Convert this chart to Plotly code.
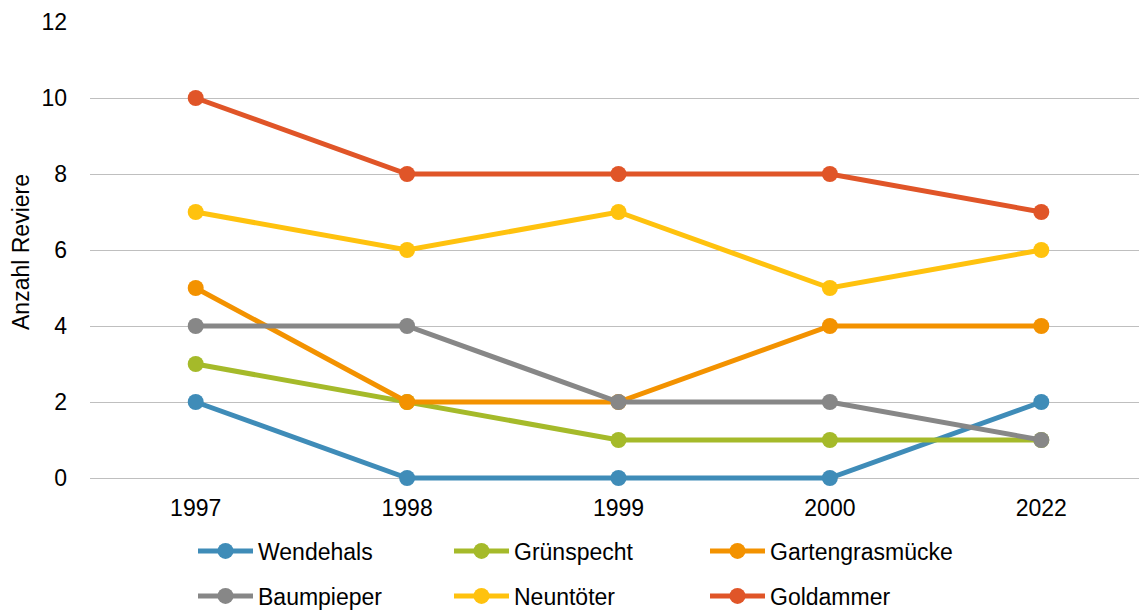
import plotly.graph_objects as go

# Kategorien und Werte (Anzahl Reviere)
jahre = ["1997", "1998", "1999", "2000", "2022"]
wendehals = [2, 0, 0, 0, 2]
gruenspecht = [3, 2, 1, 1, 1]
gartengrasmuecke = [5, 2, 2, 4, 4]
baumpieper = [4, 4, 2, 2, 1]
neuntoeter = [7, 6, 7, 5, 6]
goldammer = [10, 8, 8, 8, 7]

serien = [
    ("Wendehals", wendehals, "#3F8CB8", "legend"),
    ("Grünspecht", gruenspecht, "#A5BA2A", "legend"),
    ("Gartengrasmücke", gartengrasmuecke, "#F39200", "legend"),
    ("Baumpieper", baumpieper, "#878787", "legend2"),
    ("Neuntöter", neuntoeter, "#FFC20E", "legend2"),
    ("Goldammer", goldammer, "#E05528", "legend2"),
]

FONT = "Liberation Sans, Arial, sans-serif"
FS = 23
# die Seite hat 8px Rand -> Figur entsprechend kleiner
W, H = 1139, 602
# 38 px pro Einheit; 4 px Luft unter der Null, damit die Linie bei 0 nicht abgeschnitten wird
Y_UNTEN = -4 / 38

fig = go.Figure()
for name, werte, farbe, leg in serien:
    fig.add_trace(go.Scatter(
        x=jahre,
        y=werte,
        name=name,
        mode="lines+markers",
        line=dict(color=farbe, width=5),
        marker=dict(color=farbe, size=16),
        cliponaxis=False,
        legend=leg,
    ))

legende = dict(
    orientation="h",
    xref="container", yref="container",
    xanchor="left", yanchor="middle",
    x=185 / W,
    font=dict(family=FONT, size=FS, color="#000000"),
    entrywidth=186,
    itemwidth=55,
    bgcolor="rgba(0,0,0,0)",
    traceorder="normal",
)

fig.update_layout(
    width=W,
    height=H,
    paper_bgcolor="white",
    plot_bgcolor="white",
    margin=dict(l=82, r=0, t=14, b=128),
    font=dict(family=FONT, size=FS, color="#000000"),
    legend=dict(legende, y=1 - 543 / H),
    legend2=dict(legende, y=1 - 588 / H),
    xaxis=dict(
        type="category",
        range=[-0.5, 4.5],
        showgrid=False,
        showline=False,
        ticks="",
        automargin=False,
        ticklabelstandoff=10,
        tickfont=dict(family=FONT, size=FS, color="#000000"),
    ),
    yaxis=dict(
        range=[Y_UNTEN, 12],
        tick0=0,
        dtick=2,
        showgrid=True,
        gridcolor="#BFBFBF",
        gridwidth=1,
        zeroline=False,
        showline=False,
        ticks="",
        automargin=False,
        ticklabelstandoff=22,
        tickfont=dict(family=FONT, size=FS, color="#000000"),
        title=dict(text="Anzahl Reviere", font=dict(family=FONT, size=FS), standoff=10),
    ),
)

fig.write_html("out.html")
